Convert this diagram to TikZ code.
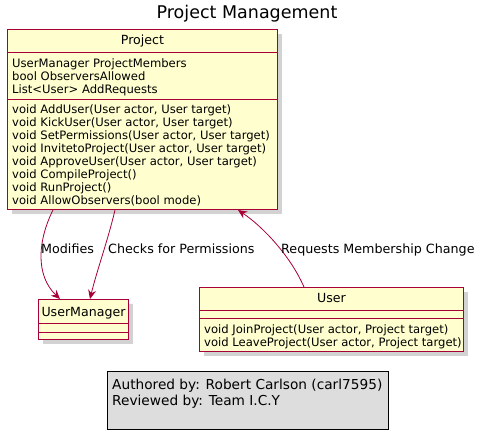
\documentclass[tikz,border=0pt]{standalone}
\usepackage{fontspec}
\setmainfont{DejaVu Sans}
\usepackage{tikz}
\usetikzlibrary{arrows.meta, calc, shadows}
\definecolor{umlRed}{RGB}{168,0,54}
\definecolor{umlFill}{RGB}{254,254,206}
\definecolor{noteGray}{RGB}{221,221,221}

\begin{document}
\begin{tikzpicture}[x=1pt, y=-1pt,
		classbox/.style={draw=umlRed, fill=umlFill, line width=1pt, inner sep=0pt, anchor=north west,
			drop shadow={shadow xshift=4pt, shadow yshift=-4pt, fill=black!25, opacity=.7}},
		divider/.style={draw=umlRed, line width=1pt},
		classname/.style={font=\fontsize{12.6}{14}\selectfont, anchor=base, inner sep=0pt},
		members/.style={font=\fontsize{11.6}{13}\selectfont, align=left, anchor=north west, inner sep=0pt},
		relation/.style={draw=umlRed, line width=0.8pt, -{Stealth[length=9pt, width=8pt, inset=3pt]}},
		lbl/.style={font=\fontsize{12.7}{14}\selectfont, anchor=base west, inner sep=0pt},
		notebox/.style={draw=black, fill=noteGray, line width=0.8pt, inner sep=0pt, anchor=north west}]
				
				\useasboundingbox (0,0) rectangle (487,440);
				\node[font=\fontsize{17.5}{20}\selectfont, anchor=base] (title) at (247,18) {Project Management};
				
				% Project
				\node[classbox, minimum width=270pt, minimum height=180pt] (project) at (7,29) {};
				\draw[divider] ([yshift=-23pt]project.north west) -- ([yshift=-23pt]project.north east);
				\draw[divider] ([yshift=-70pt]project.north west) -- ([yshift=-70pt]project.north east);
				\node[classname] (projectname) at ($(project.north)+(0,15.5)$) {Project};
				\node[members] (projectattrs) at (12,58.2) {UserManager ProjectMembers\\bool ObserversAllowed\\List<User> AddRequests};
				\node[members] (projectops) at (12,104.2) {void AddUser(User actor, User target)\\void KickUser(User actor, User target)\\void SetPermissions(User actor, User target)\\void InvitetoProject(User actor, User target)\\void ApproveUser(User actor, User target)\\void CompileProject()\\void RunProject()\\void AllowObservers(bool mode)};
				
				% UserManager
				\node[classbox, minimum width=90pt, minimum height=40pt] (usermanager) at (38,299) {};
				\draw[divider] ([yshift=-24pt]usermanager.north west) -- ([yshift=-24pt]usermanager.north east);
				\draw[divider] ([yshift=-33pt]usermanager.north west) -- ([yshift=-33pt]usermanager.north east);
				\node[classname] (usermanagername) at ($(usermanager.north)+(0,17.5)$) {UserManager};
				
				% User
				\node[classbox, minimum width=264pt, minimum height=64pt] (user) at (199,287) {};
				\draw[divider] ([yshift=-23pt]user.north west) -- ([yshift=-23pt]user.north east);
				\draw[divider] ([yshift=-31pt]user.north west) -- ([yshift=-31pt]user.north east);
				\node[classname] (username) at ($(user.north)+(0,15.5)$) {User};
				\node[members] (userops) at (204,324.2) {void JoinProject(User actor, Project target)\\void LeaveProject(User actor, Project target)};
				
				% relations
				\draw[relation] ([xshift=46pt]project.south west) .. controls (38,240) and (35,275) .. ([xshift=22pt]usermanager.north west);
				\draw[relation] ([xshift=108pt]project.south west) .. controls (108,240) and (97,270) .. ([xshift=52pt]usermanager.north west);
				\draw[relation] ([xshift=105pt]user.north west) .. controls (290,255) and (262,226) .. ([xshift=231pt]project.south west);
				\node[lbl] (modifieslbl) at (41,253.5) {Modifies};
				\node[lbl] (checkslbl) at (108,253.5) {Checks for Permissions};
				\node[lbl] (requestslbl) at (281,253.5) {Requests Membership Change};
				
				% note
				\node[notebox, minimum width=281pt, minimum height=58pt] (note) at (107,371) {};
				\node[font=\fontsize{13.7}{16}\selectfont, align=left, anchor=north west, inner sep=0pt] (notetext) at (112,378.6) {Authored by: Robert Carlson (carl7595)\\Reviewed by: Team I.C.Y};
			\end{tikzpicture}
\end{document}
